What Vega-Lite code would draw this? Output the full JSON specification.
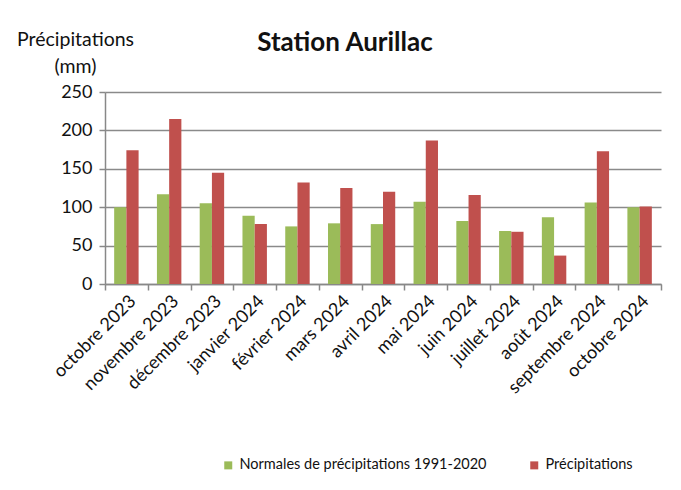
{
  "$schema": "https://vega.github.io/schema/vega-lite/v6.json",
  "autosize": "none",
  "width": 556,
  "height": 192,
  "padding": {"left": 105, "top": 92, "right": 20, "bottom": 206},
  "background": "white",
  "config": {
    "font": "Lato",
    "view": {"stroke": null},
    "axis": {"labelColor": "#111", "titleColor": "#111", "labelFont": "Lato", "titleFont": "Lato"}
  },
  "title": {
    "text": "Station Aurillac",
    "fontSize": 26,
    "fontWeight": "bold",
    "font": "Lato",
    "color": "#111",
    "dx": -38,
    "offset": -27
  },
  "data": {
    "values": [
      {"mois": "octobre 2023", "serie": "Normales de précipitations 1991-2020", "valeur": 100},
      {"mois": "octobre 2023", "serie": "Précipitations", "valeur": 174},
      {"mois": "novembre 2023", "serie": "Normales de précipitations 1991-2020", "valeur": 117},
      {"mois": "novembre 2023", "serie": "Précipitations", "valeur": 215},
      {"mois": "décembre 2023", "serie": "Normales de précipitations 1991-2020", "valeur": 105},
      {"mois": "décembre 2023", "serie": "Précipitations", "valeur": 145},
      {"mois": "janvier 2024", "serie": "Normales de précipitations 1991-2020", "valeur": 89},
      {"mois": "janvier 2024", "serie": "Précipitations", "valeur": 78},
      {"mois": "février 2024", "serie": "Normales de précipitations 1991-2020", "valeur": 75},
      {"mois": "février 2024", "serie": "Précipitations", "valeur": 132},
      {"mois": "mars 2024", "serie": "Normales de précipitations 1991-2020", "valeur": 79},
      {"mois": "mars 2024", "serie": "Précipitations", "valeur": 125},
      {"mois": "avril 2024", "serie": "Normales de précipitations 1991-2020", "valeur": 78},
      {"mois": "avril 2024", "serie": "Précipitations", "valeur": 120},
      {"mois": "mai 2024", "serie": "Normales de précipitations 1991-2020", "valeur": 107},
      {"mois": "mai 2024", "serie": "Précipitations", "valeur": 187},
      {"mois": "juin 2024", "serie": "Normales de précipitations 1991-2020", "valeur": 82},
      {"mois": "juin 2024", "serie": "Précipitations", "valeur": 116},
      {"mois": "juillet 2024", "serie": "Normales de précipitations 1991-2020", "valeur": 69},
      {"mois": "juillet 2024", "serie": "Précipitations", "valeur": 68},
      {"mois": "août 2024", "serie": "Normales de précipitations 1991-2020", "valeur": 87},
      {"mois": "août 2024", "serie": "Précipitations", "valeur": 37},
      {"mois": "septembre 2024", "serie": "Normales de précipitations 1991-2020", "valeur": 106},
      {"mois": "septembre 2024", "serie": "Précipitations", "valeur": 173},
      {"mois": "octobre 2024", "serie": "Normales de précipitations 1991-2020", "valeur": 100},
      {"mois": "octobre 2024", "serie": "Précipitations", "valeur": 101}
    ]
  },
  "mark": {"type": "bar"},
  "encoding": {
    "x": {
      "field": "mois",
      "type": "nominal",
      "sort": null,
      "scale": {"paddingInner": 0, "paddingOuter": 0},
      "axis": {
        "title": null,
        "labelAngle": -45,
        "labelFontSize": 18,
        "tickBand": "extent",
        "tickColor": "#888",
        "tickSize": 6,
        "tickWidth": 1.5,
        "domainColor": "#888",
        "domainWidth": 1.5,
        "labelPadding": 2
      }
    },
    "xOffset": {
      "field": "serie",
      "type": "nominal",
      "scale": {"paddingInner": 0, "paddingOuter": 0.75}
    },
    "y": {
      "field": "valeur",
      "type": "quantitative",
      "scale": {"domain": [0, 250]},
      "axis": {
        "values": [0, 50, 100, 150, 200, 250],
        "title": ["Précipitations", "(mm)"],
        "titleAngle": 0,
        "titleAlign": "center",
        "titleBaseline": "alphabetic",
        "titleX": -30,
        "titleY": -47,
        "titleFontSize": 19.5,
        "titleFontWeight": "normal",
        "titleLineHeight": 27,
        "labelFontSize": 18,
        "labelPadding": 7,
        "gridColor": "#8a8a8a",
        "gridWidth": 1.5,
        "domainColor": "#888",
        "domainWidth": 1.5,
        "tickColor": "#888",
        "tickWidth": 1.5,
        "tickSize": 6
      }
    },
    "color": {
      "field": "serie",
      "type": "nominal",
      "scale": {
        "domain": ["Normales de précipitations 1991-2020", "Précipitations"],
        "range": ["#9BBB59", "#C0504D"]
      },
      "legend": {
        "title": null,
        "orient": "none",
        "direction": "horizontal",
        "legendX": 116,
        "legendY": 366,
        "symbolType": "square",
        "symbolSize": 64,
        "symbolStrokeWidth": 0,
        "labelFontSize": 14.5,
        "labelLimit": 400,
        "labelColor": "#111",
        "columnPadding": 40,
        "labelOffset": 4
      }
    }
  }
}
